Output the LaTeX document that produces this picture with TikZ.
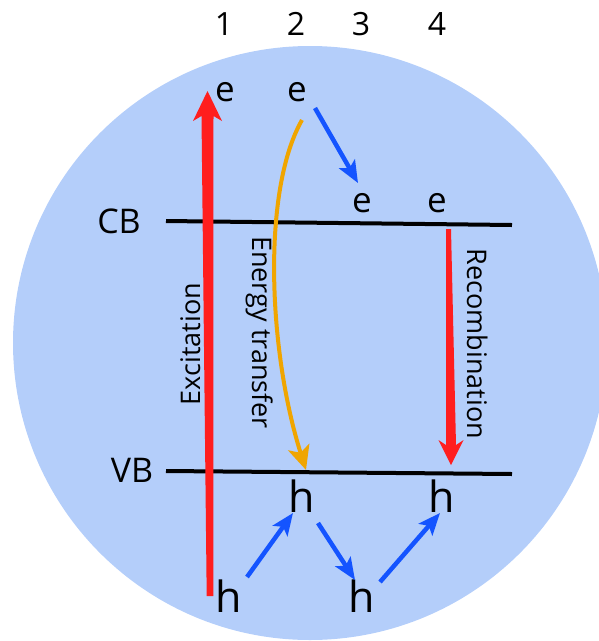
\documentclass[tikz,border=0pt]{standalone}
\usepackage{fontspec}
\setmainfont{Open Sans}
\usetikzlibrary{arrows.meta,calc}
\definecolor{bg}{RGB}{180,206,250}
\definecolor{redarr}{RGB}{255,30,30}
\definecolor{bluearr}{RGB}{20,84,255}
\definecolor{orangearr}{RGB}{240,165,0}
\begin{document}
\begin{tikzpicture}[x=1pt,y=-1pt,
  lbl/.style={inner sep=0pt, anchor=base, text=black},
  num/.style={lbl, font=\fontsize{32}{38}\selectfont},
  elec/.style={lbl, font=\fontsize{35}{42}\selectfont},
  hole/.style={lbl, font=\fontsize{43}{50}\selectfont},
  band/.style={lbl, font=\fontsize{34}{40}\selectfont},
  vlabel/.style={lbl, font=\fontsize{27}{32}\selectfont},
  level/.style={line width=4pt, black},
  hop/.style={line width=4.5pt, bluearr, -{Stealth[length=22pt,width=18pt,inset=5pt]}},
  transfer/.style={line width=4pt, orangearr, -{Stealth[length=24pt,width=22pt,inset=6pt]}},
]
\useasboundingbox (0,0) rectangle (599,641);
\begin{scope}
\clip (0,0) rectangle (599,641);
\fill[bg] (310,343) circle[radius=297pt];
\end{scope}

% column numbers
\node[num] (n1) at (224,35) {1};
\node[num] (n2) at (296,35) {2};
\node[num] (n3) at (361,35) {3};
\node[num] (n4) at (437,35) {4};

% band labels and levels
\node[band] (cb) at (119,233) {CB};
\node[band] (vb) at (132,482) {VB};
\coordinate (cbL) at (166,221);
\coordinate (cbR) at (512,225);
\coordinate (vbL) at (166,471);
\coordinate (vbR) at (512,474);
\draw[level] (cbL) -- (cbR);
\draw[level] (vbL) -- (vbR);

% electrons and holes
\node[elec] (e1) at (225,101.5) {e};
\node[elec] (e2) at (297,101.5) {e};
\node[elec] (e3) at (362,212) {e};
\node[elec] (e4) at (437,212) {e};
\node[hole] (h1) at (229,612) {h};
\node[hole] (h2) at (302,512) {h};
\node[hole] (h3) at (362,612) {h};
\node[hole] (h4) at (442,512) {h};

% vertical labels
\node[vlabel, rotate=90] (exc) at (200,344) {Excitation};
\node[vlabel, rotate=-90] (etr) at (252,332.5) {Energy transfer};
\node[vlabel, rotate=-90] (rec) at (467,344) {Recombination};

% excitation arrow (tapered)
\coordinate (exB) at (210,596);
\coordinate (exT) at (207.5,91);
\fill[redarr] ($(exB)+(-3.3,0)$) -- ($(exB)+(3.3,0)$) -- ($(exT)+(6,25)$)
  -- ($(exT)+(14.5,30)$) -- (exT) -- ($(exT)+(-14.5,30)$) -- ($(exT)+(-6,25)$) -- cycle;

% recombination arrow (tapered)
\coordinate (rcT) at (448.5,229);
\coordinate (rcB) at (451,465);
\fill[redarr] ($(rcT)+(-2.5,0)$) -- ($(rcT)+(2.5,0)$) -- ($(rcB)+(5,-20)$)
  -- ($(rcB)+(12.5,-25)$) -- (rcB) -- ($(rcB)+(-12.5,-25)$) -- ($(rcB)+(-5,-20)$) -- cycle;

% energy transfer arrow
\coordinate (etS) at (302,120);
\coordinate (etE) at (306,470);
\draw[transfer] (etS) .. controls (262,190) and (268,350) .. (etE);

% hopping arrows
\coordinate (b1s) at (315,108);
\coordinate (b1e) at (358,183);
\coordinate (b2s) at (247,577);
\coordinate (b2e) at (293,513);
\coordinate (b3s) at (318,523);
\coordinate (b3e) at (355,580);
\coordinate (b4s) at (380,582);
\coordinate (b4e) at (440,513);
\draw[hop] (b1s) -- (b1e);
\draw[hop] (b2s) -- (b2e);
\draw[hop] (b3s) -- (b3e);
\draw[hop] (b4s) -- (b4e);
\end{tikzpicture}
\end{document}
